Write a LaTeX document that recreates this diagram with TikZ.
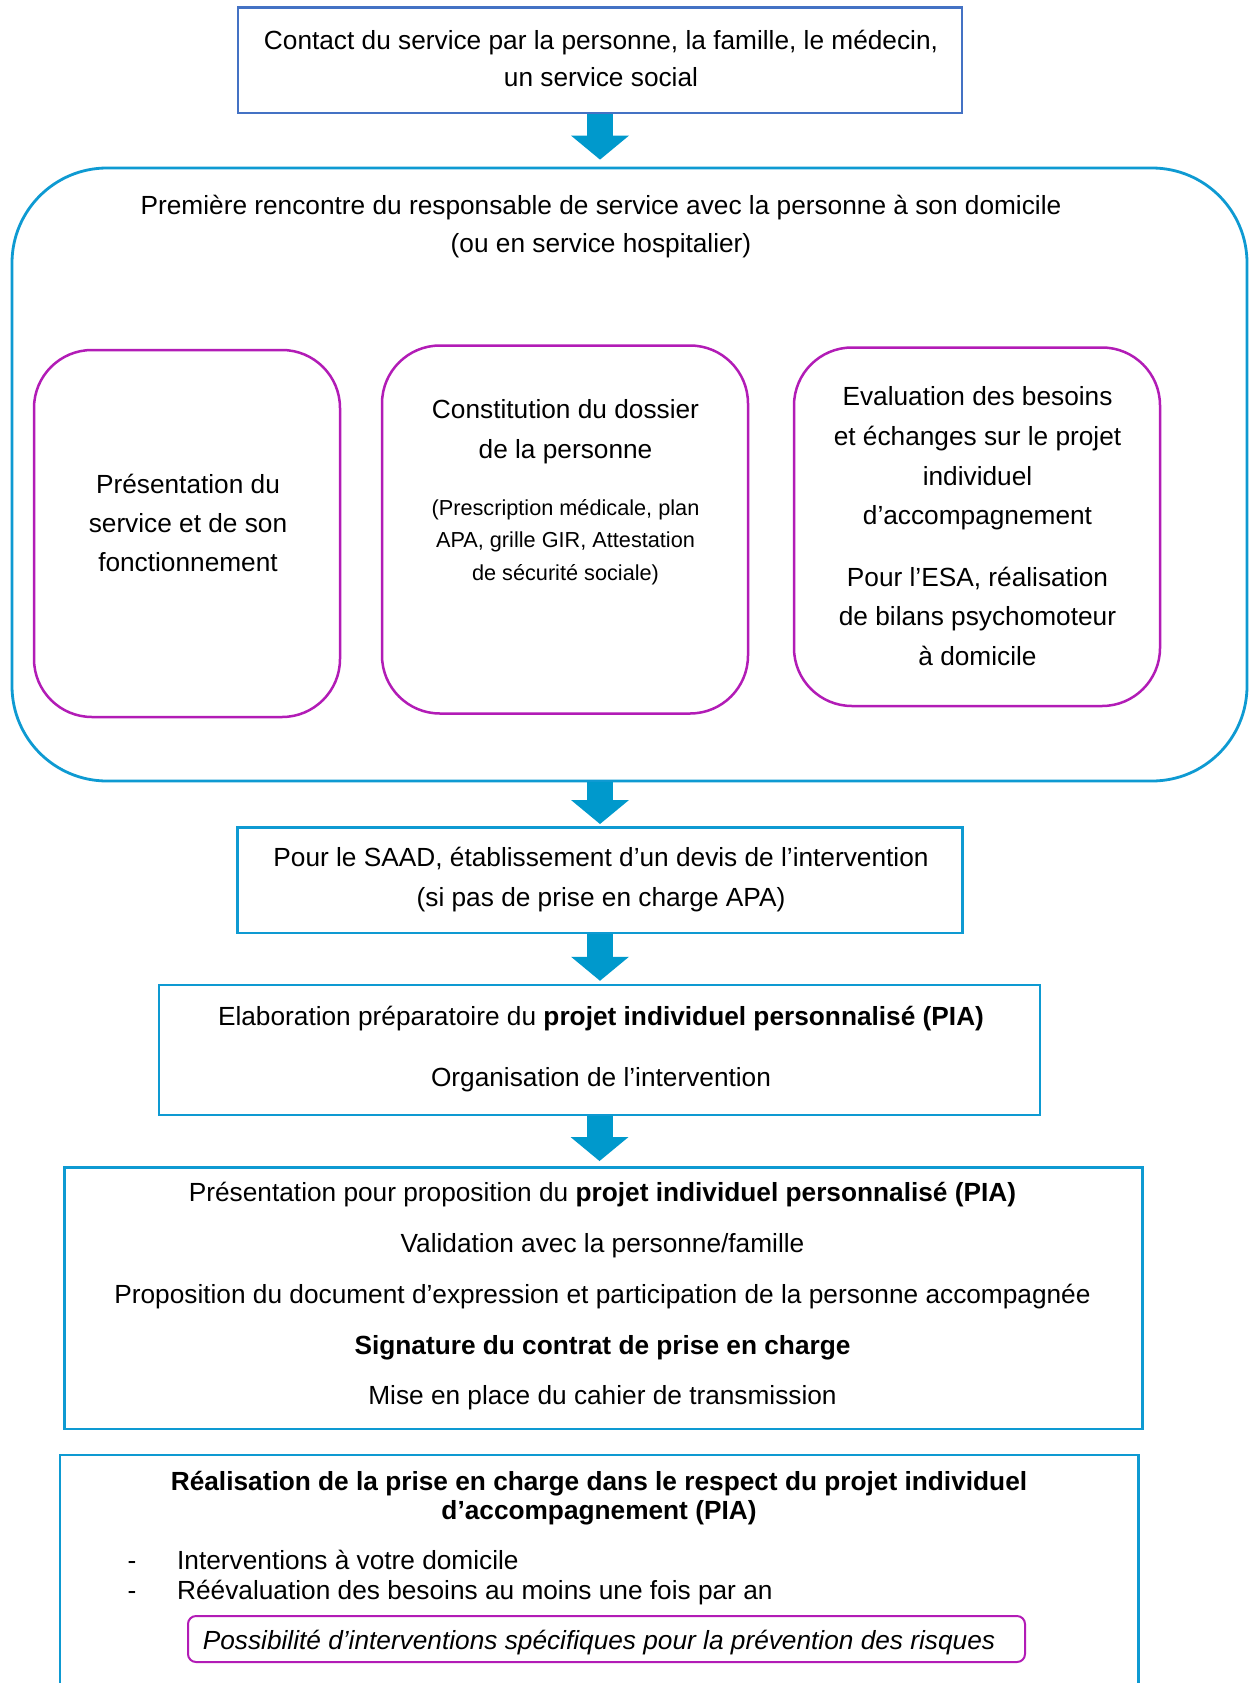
\documentclass[tikz,border=0pt]{standalone}
\usepackage{fontspec}
\setmainfont{Liberation Sans}
\usetikzlibrary{arrows.meta,calc}
\definecolor{topblue}{RGB}{68,114,196}
\definecolor{cyanb}{RGB}{14,154,210}
\definecolor{arrowc}{RGB}{0,153,204}
\definecolor{purp}{RGB}{178,28,182}
\begin{document}
\begin{tikzpicture}[x=1pt,y=-1pt,
  txt/.style={font=\fontsize{26.25}{37}\selectfont, align=center, inner sep=0pt},
  boxshape/.style={draw, rectangle, inner sep=0pt, line width=2.5pt},
  bluebox/.style={boxshape, draw=topblue},
  cyanbox/.style={boxshape, draw=cyanb},
  bigbox/.style={boxshape, draw=cyanb, rounded corners=95pt, line width=2.8pt},
  purpbox/.style={boxshape, draw=purp, rounded corners=58pt},
  bigarrow/.style={draw=arrowc, line width=26pt, -{Triangle[width=58pt,length=24pt,line width=0pt]}}
]
\clip (0,0) rectangle (1250,1683);
\fill[white] (0,0) rectangle (1250,1683);

% boxes
\node[bluebox, minimum width=724pt, minimum height=105.5pt] (top) at (600,60.25) {};
\node[bigbox, minimum width=1235pt, minimum height=613pt] (big) at (629.5,474.5) {};
\node[purpbox, minimum width=306pt, minimum height=367pt] (pa) at (187,533.5) {};
\node[purpbox, minimum width=366pt, minimum height=368pt] (pb) at (565,529.5) {};
\node[purpbox, minimum width=366pt, minimum height=358.5pt] (pc) at (977,526.75) {};
\node[cyanbox, minimum width=725pt, minimum height=105.5pt] (saad) at (600,880) {};
\node[cyanbox, minimum width=881pt, minimum height=130pt] (elab) at (599.5,1050) {};
\node[cyanbox, minimum width=1078pt, minimum height=261.5pt] (pres) at (603.5,1298) {};
\node[cyanbox, minimum width=1078.5pt, minimum height=280pt] (real) at (599,1595) {};
\node[boxshape, draw=purp, line width=2pt, rounded corners=8pt, minimum width=837pt, minimum height=46pt] (ib) at (606.5,1639) {};

% texts
\node[txt] (t1) at (601,58.5) {Contact du service par la personne, la famille, le médecin,\\un service social};
\node[txt, font=\fontsize{26.25}{37.5}\selectfont] (t2) at (601,226.5) {Première rencontre du responsable de service avec la personne à son domicile\\(ou en service hospitalier)};
\node[txt, font=\fontsize{26.25}{39}\selectfont] (ta) at (188,523) {Présentation du\\service et de son\\fonctionnement};
\node[txt, font=\fontsize{26.25}{39.5}\selectfont] (tb1) at (565.5,431.7) {Constitution du dossier\\de la personne};
\node[txt, font=\fontsize{21.7}{32.8}\selectfont] (tb2) at (565.5,542.2) {(Prescription médicale, plan\\APA, grille GIR, Attestation\\de sécurité sociale)};
\node[txt, font=\fontsize{26.25}{39.7}\selectfont] (tc) at (977.5,526.3) {Evaluation des besoins\\et échanges sur le projet\\individuel\\d’accompagnement\\[21.5pt]Pour l’ESA, réalisation\\de bilans psychomoteur\\à domicile};
\node[txt, font=\fontsize{26.25}{40}\selectfont] (ts) at (601,880) {Pour le SAAD, établissement d’un devis de l’intervention\\(si pas de prise en charge APA)};
\node[txt] (te) at (601,1049.5) {Elaboration préparatoire du \textbf{projet individuel personnalisé (PIA)}\\[24pt]Organisation de l’intervention};
\node[txt, font=\fontsize{26.25}{50.75}\selectfont] (tp) at (602.5,1296.3) {Présentation pour proposition du \textbf{projet individuel personnalisé (PIA)}\\Validation avec la personne/famille\\Proposition du document d’expression et participation de la personne accompagnée\\\textbf{Signature du contrat de prise en charge}\\Mise en place du cahier de transmission};
\node[txt, font=\fontsize{26.25}{29}\selectfont\bfseries] (tr) at (599,1498.5) {Réalisation de la prise en charge dans le respect du projet individuel\\d’accompagnement (PIA)};
\node[txt, anchor=base] (d1) at (132,1569) {-};
\node[txt, anchor=base] (d2) at (132,1599) {-};
\node[txt, anchor=base west] (b1) at (177,1569) {Interventions à votre domicile};
\node[txt, anchor=base west] (b2) at (177,1599) {Réévaluation des besoins au moins une fois par an};
\node[txt, font=\fontsize{26.25}{30}\selectfont\itshape] (ti) at (599,1643) {Possibilité d’interventions spécifiques pour la prévention des risques};

% arrows
\draw[bigarrow, shorten >=7pt] (top.south) -- (top.south |- big.north);
\draw[bigarrow, shorten >=2pt] (saad.north |- big.south) -- (saad.north);
\draw[bigarrow, shorten >=3pt] (saad.south) -- (saad.south |- elab.north);
\draw[bigarrow, shorten >=5pt] (elab.south) -- (elab.south |- pres.north);
\end{tikzpicture}
\end{document}
